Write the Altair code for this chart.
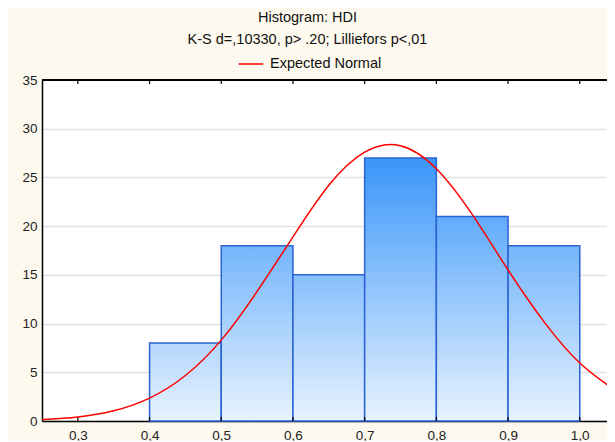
import altair as alt
import pandas as pd

# ---- data ----
bin_start = [0.4, 0.5, 0.6, 0.7, 0.8, 0.9]
bin_end = [0.5, 0.6, 0.7, 0.8, 0.9, 1.0]
counts = [8, 18, 15, 27, 21, 18]

curve_x = [0.25, 0.30, 0.35, 0.40, 0.45, 0.50, 0.55, 0.60, 0.65, 0.70,
           0.75, 0.80, 0.85, 0.90, 0.95, 1.00, 1.05]
curve_y = [0.15, 0.42, 1.05, 2.35, 4.67, 8.3, 13.3, 18.9, 24.2, 27.6,
           28.26, 25.9, 21.2, 15.5, 10.2, 5.96, 3.13]

x_ticks = [0.3, 0.4, 0.5, 0.6, 0.7, 0.8, 0.9, 1.0]
y_ticks = [0, 5, 10, 15, 20, 25, 30, 35]

title_lines = ["Histogram: HDI", "K-S d=,10330, p> .20; Lilliefors p<,01"]
legend_label = "Expected Normal"

# ---- styling ----
FONT = "Liberation Sans"
FS = 13.5
TFS = 14.5
BOTTOM_RGB = (232, 243, 254)
TOP_RGB = (58, 150, 250)  # colour at 27
REF_H = 27.0
W, H = 565, 341

def hexcol(rgb):
    return "#%02x%02x%02x" % tuple(int(round(v)) for v in rgb)

def top_color(h):
    t = h / REF_H
    return hexcol([b + (c - b) * t for b, c in zip(BOTTOM_RGB, TOP_RGB)])

bars = pd.DataFrame({"start": bin_start, "end": bin_end, "count": counts})
curve = pd.DataFrame({"x": curve_x, "y": curve_y, "s": [legend_label] * len(curve_x)})
ticks_df = pd.DataFrame({"t": x_ticks})

xscale = alt.Scale(domain=[0.25, 1.038], nice=False, zero=False)
yscale = alt.Scale(domain=[0, 35], nice=False)

x_axis = alt.Axis(values=x_ticks, grid=False, title=None,
                  labelExpr="replace(format(datum.value, '.1f'), '.', ',')",
                  labelFont=FONT, labelFontSize=FS, labelColor="#222",
                  domainColor="#000", domainWidth=1.5, ticks=False,
                  labelPadding=7, labelFlush=False)
y_axis = alt.Axis(values=y_ticks, grid=True, gridColor="#e2e2e2", gridWidth=1.5,
                  title=None, labelFont=FONT, labelFontSize=FS, labelColor="#222",
                  domainColor="#000", domainWidth=1.5, ticks=False, labelPadding=5)

layers = []
for i in range(len(counts)):
    grad = alt.Gradient(
        gradient="linear", x1=0, x2=0, y1=0, y2=1,
        stops=[alt.GradientStop(offset=0, color=top_color(counts[i])),
               alt.GradientStop(offset=1, color=hexcol(BOTTOM_RGB))])
    layers.append(
        alt.Chart(bars.iloc[[i]]).mark_rect(color=grad, stroke="#2b63d4", strokeWidth=1.5)
        .encode(
            x=alt.X("start:Q", scale=xscale, axis=x_axis),
            x2="end:Q",
            y=alt.Y("count:Q", scale=yscale, axis=y_axis),
            y2=alt.datum(0),
        )
    )

top_frame = alt.Chart(bars).mark_rule(color="#000", strokeWidth=1.5).encode(
    y=alt.datum(35, scale=yscale, axis=y_axis), x=alt.value(0), x2=alt.value(W)
)

# inward tick marks on the bottom and top frames
bottom_ticks = alt.Chart(ticks_df).mark_rule(color="#000", strokeWidth=1.2).encode(
    x=alt.X("t:Q", scale=xscale, axis=x_axis), y=alt.value(H), y2=alt.value(H - 4)
)
top_ticks = alt.Chart(ticks_df).mark_rule(color="#000", strokeWidth=1.2).encode(
    x=alt.X("t:Q", scale=xscale, axis=x_axis), y=alt.value(0), y2=alt.value(4)
)

line = alt.Chart(curve).mark_line(strokeWidth=1.5, clip=True, interpolate="natural").encode(
    x=alt.X("x:Q", scale=xscale, axis=x_axis),
    y=alt.Y("y:Q", scale=yscale, axis=y_axis),
    color=alt.Color("s:N", scale=alt.Scale(range=["#ff0000"]),
                    legend=alt.Legend(title=None, orient="none", legendX=196, legendY=-29,
                                      symbolType="stroke", symbolSize=600,
                                      symbolStrokeWidth=1.5, labelFont=FONT,
                                      labelFontSize=TFS, labelColor="#111", labelOffset=6,
                                      padding=0)),
)

chart = alt.layer(*layers, top_frame, bottom_ticks, top_ticks, line).properties(
    width=W, height=H,
    autosize=alt.AutoSizeParams(type="none"),
    padding={"left": 34, "top": 72, "right": 0, "bottom": 20},
    background="#fdf9ef",
    title=alt.TitleParams(text=title_lines, font=FONT, fontSize=TFS, fontWeight="normal",
                          color="#111", lineHeight=21.5, anchor="middle", offset=4,
                          dx=-17),
).configure_view(fill="white", stroke=None)

chart.save("out.html", embed_options={"renderer": "svg", "actions": False})
